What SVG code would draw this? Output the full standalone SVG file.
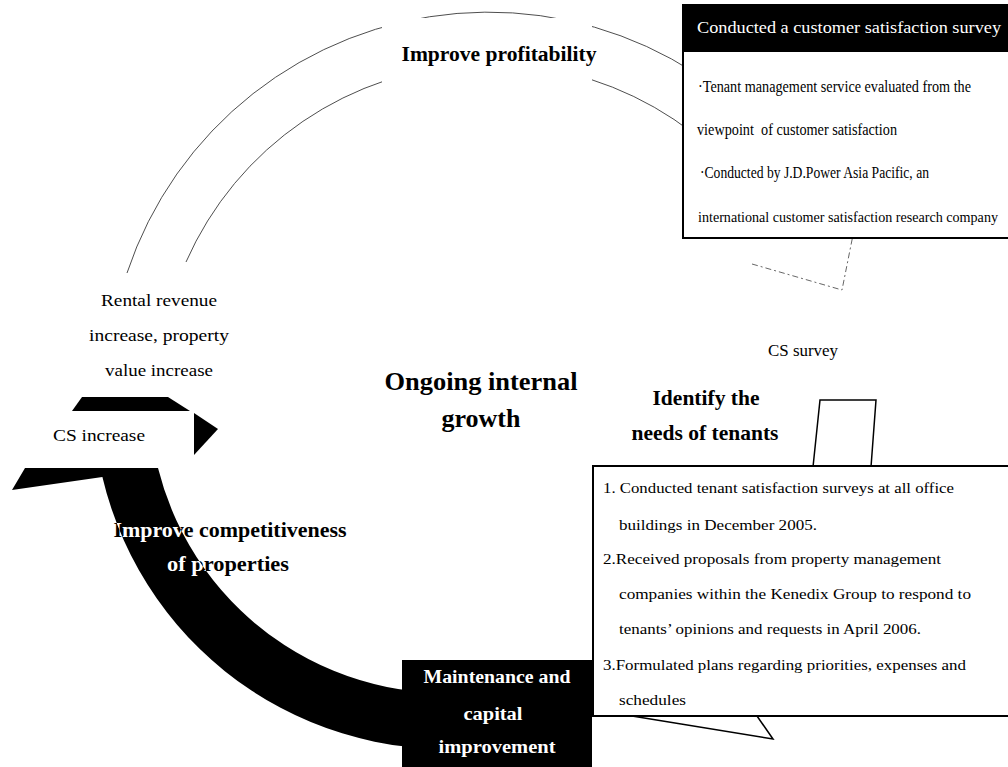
<svg xmlns="http://www.w3.org/2000/svg" width="1008" height="767" viewBox="0 0 1008 767">
  <style>
    text { font-family: "Liberation Serif", "Times New Roman", serif; fill: #000; }
    .b { font-weight: bold; }
    .w { fill: #fff; }
    .thin { fill: none; stroke: #3a3a3a; stroke-width: 0.9; }
    .faint { fill: none; stroke: #555; stroke-width: 0.9; stroke-dasharray: 6 3 2 3; }
    .frame { fill: #fff; stroke: #000; stroke-width: 2; }
    .note { font-size: 15px; }
    .mid { text-anchor: middle; }
  </style>
  <defs>
    <!-- thick clockwise arrow along the lower left of the cycle -->
    <path id="bandShape" d="M 12 490 L 25 468 L 158 468 A 297 297 0 0 0 497.6 688.5 L 507.3 743.6 A 353 353 0 0 1 102.4 477 Z"/>
    <clipPath id="bandClip"><use href="#bandShape"/></clipPath>
  </defs>

  <rect width="1008" height="767" fill="#fff"/>

  <!-- connectors: the cycle arrows -->
  <g id="connectors">
    <!-- upper hollow arrow (outline only), ends with a head pointing down on the right -->
    <g id="upper-arrow">
      <path class="thin" d="M 127 273 A 381 381 0 0 1 825.4 215.1"/>
      <path class="thin" d="M 186 262 A 332 332 0 0 1 782.1 238.1"/>
      <path class="faint" d="M 752 264 L 842 290 L 862 190"/>
    </g>
    <!-- lower solid arrow -->
    <g id="lower-arrow">
      <use href="#bandShape" fill="#000"/>
    </g>
  </g>

  <!-- Improve profitability label on the upper arc -->
  <g id="label-profitability">
    <rect x="382" y="18" width="210" height="85" fill="#fff"/>
    <text class="b mid" x="499" y="61" font-size="20" textLength="195" lengthAdjust="spacingAndGlyphs">Improve profitability</text>
  </g>

  <!-- CS increase block -->
  <g id="node-cs-increase">
    <polygon points="82,397 168,397 190,411 72,411" fill="#000"/>
    <polygon points="194,413 218,429 194,455" fill="#000"/>
    <text x="53" y="441" font-size="17" textLength="92" lengthAdjust="spacingAndGlyphs">CS increase</text>
  </g>

  <!-- Rental revenue label -->
  <g id="node-rental">
    <text class="mid" x="159" y="306" font-size="17" textLength="116" lengthAdjust="spacingAndGlyphs">Rental revenue</text>
    <text class="mid" x="159" y="341" font-size="17" textLength="140" lengthAdjust="spacingAndGlyphs">increase, property</text>
    <text class="mid" x="159" y="376" font-size="17" textLength="108" lengthAdjust="spacingAndGlyphs">value increase</text>
  </g>

  <!-- centre title -->
  <g id="node-center">
    <text class="b mid" x="481" y="390" font-size="26" textLength="193" lengthAdjust="spacingAndGlyphs">Ongoing internal</text>
    <text class="b mid" x="481" y="427" font-size="26">growth</text>
  </g>

  <!-- Improve competitiveness label, inverted where it crosses the solid arrow -->
  <g id="label-competitiveness">
    <text class="b mid" x="230" y="537" font-size="21" textLength="233" lengthAdjust="spacingAndGlyphs">Improve competitiveness</text>
    <text class="b mid" x="228" y="571" font-size="21" textLength="122" lengthAdjust="spacingAndGlyphs">of properties</text>
    <g clip-path="url(#bandClip)">
      <text class="b mid w" x="230" y="537" font-size="21" textLength="233" lengthAdjust="spacingAndGlyphs">Improve competitiveness</text>
      <text class="b mid w" x="228" y="571" font-size="21" textLength="122" lengthAdjust="spacingAndGlyphs">of properties</text>
    </g>
  </g>

  <!-- CS survey label -->
  <g id="node-cs-survey">
    <text x="768" y="356" font-size="17" textLength="70" lengthAdjust="spacingAndGlyphs">CS survey</text>
  </g>

  <!-- Identify the needs of tenants -->
  <g id="node-identify">
    <text class="b mid" x="706" y="405" font-size="21" textLength="107" lengthAdjust="spacingAndGlyphs">Identify the</text>
    <text class="b mid" x="705" y="440" font-size="21" textLength="147" lengthAdjust="spacingAndGlyphs">needs of tenants</text>
  </g>

  <!-- Maintenance and capital improvement -->
  <g id="node-maintenance">
    <rect x="402" y="660" width="190" height="107" fill="#000"/>
    <text class="b mid w" x="497" y="683" font-size="18" textLength="147" lengthAdjust="spacingAndGlyphs">Maintenance and</text>
    <text class="b mid w" x="493" y="720" font-size="18" textLength="59" lengthAdjust="spacingAndGlyphs">capital</text>
    <text class="b mid w" x="497" y="753" font-size="18" textLength="117" lengthAdjust="spacingAndGlyphs">improvement</text>
  </g>

  <!-- customer satisfaction survey box -->
  <g id="node-survey-box">
    <rect class="frame" x="683" y="5" width="340" height="233" stroke-width="2.5"/>
    <rect x="683" y="5" width="340" height="47" fill="#000"/>
    <text class="w" x="697" y="33" font-size="16" textLength="304" lengthAdjust="spacingAndGlyphs">Conducted a customer satisfaction survey</text>
    <text x="698" y="92" font-size="16" textLength="273" lengthAdjust="spacingAndGlyphs">·Tenant management service evaluated from the</text>
    <text x="697" y="135" font-size="16" textLength="200" lengthAdjust="spacingAndGlyphs" style="white-space:pre">viewpoint  of customer satisfaction</text>
    <text x="700" y="178" font-size="16" textLength="229" lengthAdjust="spacingAndGlyphs">·Conducted by J.D.Power Asia Pacific, an</text>
    <text x="698" y="222" font-size="14.5" textLength="300" lengthAdjust="spacingAndGlyphs">international customer satisfaction research company</text>
  </g>

  <!-- tenant needs callout -->
  <g id="node-needs-box">
    <polyline points="813,467 820,400 876,400 871,467" fill="#fff" stroke="#000" stroke-width="1.5"/>
    <polyline points="632,716 773,739 757,716" fill="#fff" stroke="#000" stroke-width="1.5"/>
    <rect class="frame" x="593" y="466" width="430" height="250"/>
    <text class="note" x="603" y="493" textLength="351" lengthAdjust="spacingAndGlyphs">1. Conducted tenant satisfaction surveys at all office</text>
    <text class="note" x="619" y="530" textLength="198" lengthAdjust="spacingAndGlyphs">buildings in December 2005.</text>
    <text class="note" x="603" y="564" textLength="338" lengthAdjust="spacingAndGlyphs">2.Received proposals from property management</text>
    <text class="note" x="619" y="599" textLength="352" lengthAdjust="spacingAndGlyphs">companies within the Kenedix Group to respond to</text>
    <text class="note" x="619" y="634" textLength="302" lengthAdjust="spacingAndGlyphs">tenants’ opinions and requests in April 2006.</text>
    <text class="note" x="603" y="670" textLength="363" lengthAdjust="spacingAndGlyphs">3.Formulated plans regarding priorities, expenses and</text>
    <text class="note" x="619" y="705" textLength="67" lengthAdjust="spacingAndGlyphs">schedules</text>
  </g>
</svg>
